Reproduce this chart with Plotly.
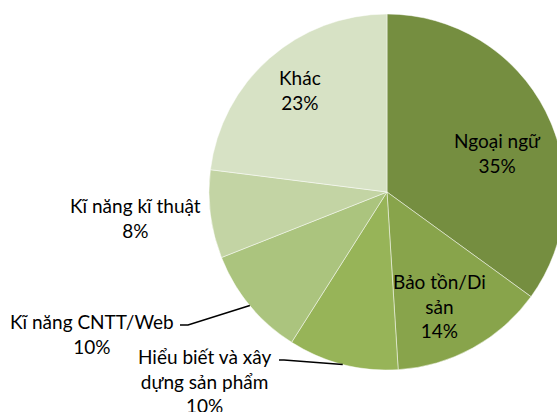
import math
import plotly.graph_objects as go

W, H = 557, 412
FIG_W = 568  # pie in the reference is slightly cut at the right edge

labels = ["Ngoại ngữ", "Bảo tồn/Di sản", "Hiểu biết và xây dựng sản phẩm",
          "Kĩ năng CNTT/Web", "Kĩ năng kĩ thuật", "Khác"]
values = [35, 14, 10, 10, 8, 23]
label_lines = ["Ngoại ngữ", "Bảo tồn/Di<br>sản", "Hiểu biết và xây<br>dựng sản phẩm",
               "Kĩ năng CNTT/Web", "Kĩ năng kĩ thuật", "Khác"]
colors = ["#758E40", "#88A44B", "#97B458", "#ABC47E", "#C3D4A4", "#D7E2C5"]

# pie geometry (pixels)
CX, CY, R = 387, 192, 178
dom_x = [(CX - R) / FIG_W, (CX + R) / FIG_W]
dom_y = [1 - (CY + R) / H, 1 - (CY - R) / H]

# label centres (pixels) and leader lines
label_pos = [(497, 153), (439, 306), (204, 381), (92, 334), (135, 218), (300, 90)]
leader_elbow = [None, None, (284, 360), (188, 325), None, None]
leader_end = [None, None, (279, 360), (180, 325), None, None]

FONT = "Lato"
FS = 19

fig = go.Figure(go.Pie(
    labels=labels, values=values, sort=False, direction="clockwise",
    marker=dict(colors=colors, line=dict(color="rgba(255,255,255,0.6)", width=0.8)),
    textinfo="none", hoverinfo="label+percent", showlegend=False,
    domain=dict(x=dom_x, y=dom_y),
))

def px(x, y):
    return x / FIG_W, 1 - y / H

total = sum(values)
cum = 0
shapes = []
annotations = []
for i, v in enumerate(values):
    mid = (cum + v / 2) / total * 2 * math.pi
    cum += v
    ax, ay = px(*label_pos[i])
    annotations.append(dict(
        x=ax, y=ay, xref="paper", yref="paper", showarrow=False,
        xanchor="center", yanchor="middle",
        text=f"{label_lines[i]}<br>{v}%", align="center",
        font=dict(family=FONT, size=FS, color="#000000"),
    ))
    if leader_elbow[i]:
        ex, ey = CX + R * math.sin(mid), CY - R * math.cos(mid)
        p0 = px(ex, ey)
        p1 = px(*leader_elbow[i])
        p2 = px(*leader_end[i])
        shapes.append(dict(
            type="path", xref="paper", yref="paper",
            path=f"M {p0[0]} {p0[1]} L {p1[0]} {p1[1]} L {p2[0]} {p2[1]}",
            line=dict(color="#000000", width=1.5),
        ))

fig.update_layout(
    width=FIG_W, height=H, margin=dict(l=0, r=0, t=0, b=0),
    paper_bgcolor="white", plot_bgcolor="white",
    annotations=annotations, shapes=shapes,
)
fig.write_html(
    "out.html",
    config={"displayModeBar": False},
    post_script="document.body.style.margin='0';document.body.style.overflow='hidden';",
)
